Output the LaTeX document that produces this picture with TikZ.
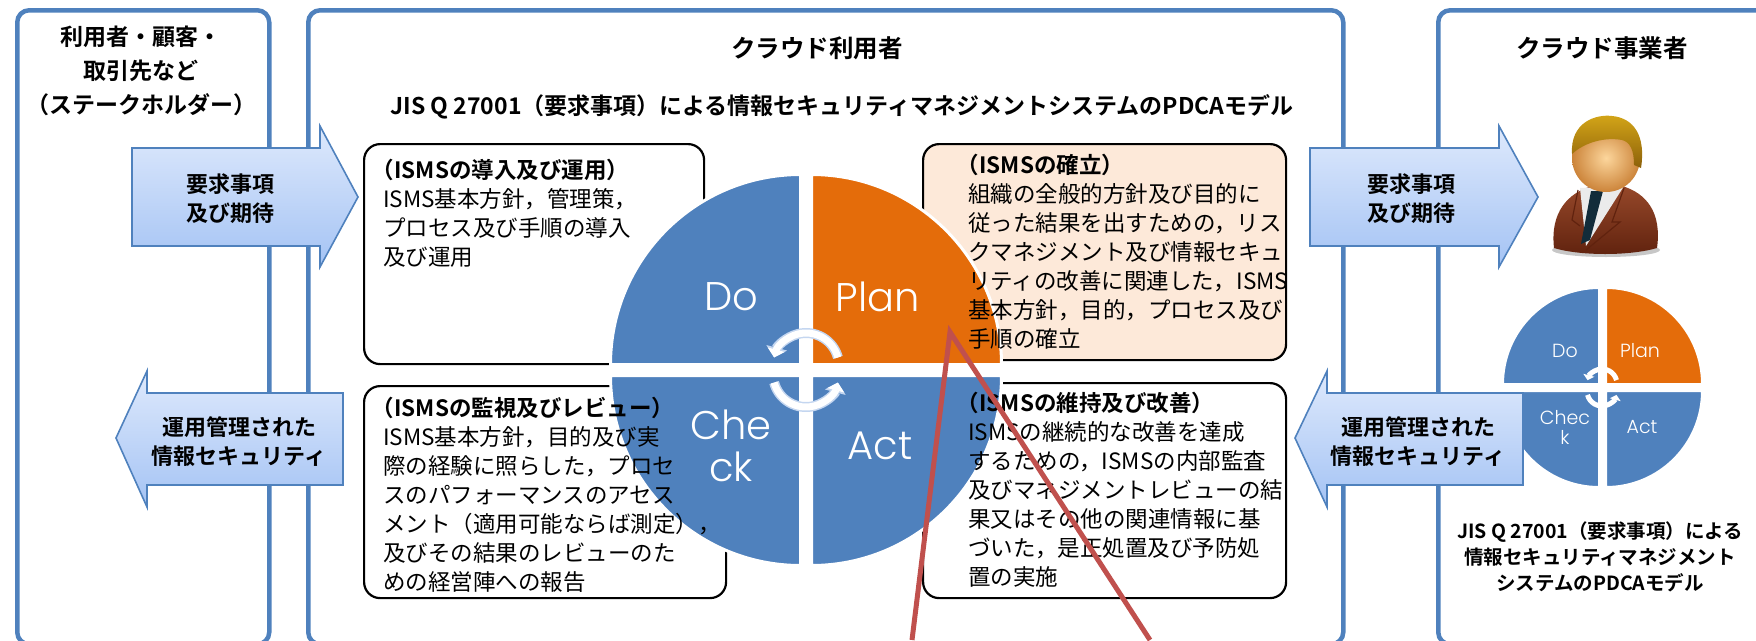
\documentclass[tikz,border=0pt]{standalone}
\usepackage{fontspec}
\setmainfont{Noto Sans CJK JP}[BoldFont={Noto Sans CJK JP Bold}]
\newfontfamily\pdcafont{Poppins Light}
\definecolor{panelblue}{RGB}{79,129,189}
\definecolor{pdcablue}{RGB}{79,129,189}
\definecolor{pdcaorange}{RGB}{228,108,10}
\definecolor{planfill}{RGB}{253,233,217}
\definecolor{arrowtop}{RGB}{222,233,252}
\definecolor{arrowbot}{RGB}{164,195,244}
\definecolor{calloutred}{RGB}{192,80,77}
\definecolor{cycleedge}{RGB}{196,214,240}
\definecolor{suitlight}{RGB}{150,72,42}
\definecolor{suitdark}{RGB}{96,34,14}
\definecolor{skinlight}{RGB}{252,214,156}
\definecolor{skindark}{RGB}{204,132,58}
\definecolor{hairlight}{RGB}{212,166,24}
\definecolor{hairdark}{RGB}{140,96,10}
\definecolor{tienavy}{RGB}{18,44,58}
\usetikzlibrary{arrows.meta,positioning}

\begin{document}
\begin{tikzpicture}[x=1pt,y=-1pt,
  panel/.style={draw=panelblue,line width=4.5pt,rounded corners=12pt,anchor=north west,inner sep=0pt},
  infobox/.style={draw=black,line width=2.2pt,rounded corners=16pt,fill=white,anchor=north west,inner sep=0pt},
  boxtext/.style={anchor=north west,inner sep=0pt,align=left,font=\fontsize{22.5}{29}\selectfont},
  headtext/.style={align=center,font=\bfseries\fontsize{23}{34}\selectfont},
  flowarrow/.style={draw=panelblue,line width=1.6pt,top color=arrowtop,bottom color=arrowbot},
  arrowtext/.style={align=center,font=\bfseries\fontsize{22}{29}\selectfont},
  quadrant/.style={draw=white,line width=3pt},
  pdcabig/.style={text=white,align=center,font=\pdcafont\fontsize{40}{42}\selectfont},
  pdcasmall/.style={text=white,align=center,font=\pdcafont\fontsize{19}{20}\selectfont},
  cyclebase/.style={cycleedge,line width=10pt,-{Triangle[length=10pt,width=21pt]}},
  cycletop/.style={white,line width=7pt,-{Triangle[length=8pt,width=17pt]}},
  callout/.style={calloutred,line width=5pt}]
  \useasboundingbox (0,0) rectangle (1756,640);

  % three lanes
  \node[panel,minimum width=252,minimum height=634] (stakeholders) at (15,8) {};
  \node[panel,minimum width=1035,minimum height=634] (clouduser) at (306,8) {};
  \node[panel,minimum width=340,minimum height=634] (provider) at (1436,8) {};

  \node[headtext] (stakeTitle) at (141,71) {利用者・顧客・\\取引先など\\（ステークホルダー）};
  \node[headtext,font=\bfseries\fontsize{24.5}{34}\selectfont] (userTitle) at (817,48) {クラウド利用者};
  \node[headtext,font=\bfseries\fontsize{24.5}{34}\selectfont] (providerTitle) at (1602,48) {クラウド事業者};
  \node[headtext] (modelTitle) at (842,107) {JIS Q 27001（要求事項）による情報セキュリティマネジメントシステムのPDCAモデル};

  % flows between stakeholders and cloud user
  \path[flowarrow] (132,148) -- (320,148) -- (320,126) -- (358,197) -- (320,267) -- (320,246) -- (132,246) -- cycle;
  \node[arrowtext] (reqIn) at (230,199) {要求事項\\及び期待};
  \path[flowarrow] (343,393) -- (147,393) -- (147,371) -- (116,438) -- (147,507) -- (147,485) -- (343,485) -- cycle;
  \node[arrowtext] (secOut) at (239,442) {運用管理された\\情報セキュリティ};

  % ISMS phase boxes
  \node[infobox,minimum width=340,minimum height=220] (doBox) at (363,143) {};
  \node[infobox,minimum width=362,minimum height=212] (checkBox) at (363,385) {};
  \node[infobox,fill=planfill,minimum width=363,minimum height=216] (planBox) at (922,143) {};
  \node[infobox,minimum width=363,minimum height=215] (actBox) at (922,382) {};

  % PDCA wheel
  \filldraw[quadrant,fill=pdcablue] (800.5,364.5) -- ++(-190,0) arc[start angle=180,end angle=270,radius=190] -- cycle;
  \filldraw[quadrant,fill=pdcaorange] (811.5,364.5) -- ++(0,-190) arc[start angle=270,end angle=360,radius=190] -- cycle;
  \filldraw[quadrant,fill=pdcablue] (811.5,375.5) -- ++(190,0) arc[start angle=0,end angle=90,radius=190] -- cycle;
  \filldraw[quadrant,fill=pdcablue] (800.5,375.5) -- ++(0,190) arc[start angle=90,end angle=180,radius=190] -- cycle;
  \node[pdcabig] (doLabel) at (731,297) {Do};
  \node[pdcabig] (planLabel) at (878,297) {Plan};
  \node[pdcabig] (checkLabel) at (731,446) {Che\\ck};
  \node[pdcabig] (actLabel) at (880,446) {Act};
  \draw[cyclebase] ([shift={(345:33)}]806,366) arc[start angle=345,end angle=195,radius=33];
  \draw[cycletop] ([shift={(345:33)}]806,366) arc[start angle=345,end angle=195,radius=33];
  \draw[cyclebase] ([shift={(165:33)}]806,374) arc[start angle=165,end angle=15,radius=33];
  \draw[cycletop] ([shift={(165:33)}]806,374) arc[start angle=165,end angle=15,radius=33];

  % phase texts sit over the wheel
  \node[boxtext] (doText) at (383,159) {\textbf{\kern-0.5em（ISMSの導入及び運用）}\\ISMS基本方針，管理策，\\プロセス及び手順の導入\\及び運用};
  \node[boxtext] (checkText) at (383,397) {\textbf{\kern-0.5em（ISMSの監視及びレビュー）}\\ISMS基本方針，目的及び実\\際の経験に照らした，プロセ\\スのパフォーマンスのアセス\\メント（適用可能ならば測定），\\及びその結果のレビューのた\\めの経営陣への報告};
  \node[boxtext] (planText) at (968,154) {\textbf{\kern-0.5em（ISMSの確立）}\\組織の全般的方針及び目的に\\従った結果を出すための，リス\\クマネジメント及び情報セキュ\\リティの改善に関連した，ISMS\\基本方針，目的，プロセス及び\\手順の確立};
  \node[boxtext] (actText) at (968,392) {\textbf{\kern-0.5em（ISMSの維持及び改善）}\\ISMSの継続的な改善を達成\\するための，ISMSの内部監査\\及びマネジメントレビューの結\\果又はその他の関連情報に基\\づいた，是正処置及び予防処\\置の実施};

  % provider side wheel
  \filldraw[quadrant,line width=2pt,fill=pdcablue] (1599,384) -- ++(-96,0) arc[start angle=180,end angle=270,radius=96] -- cycle;
  \filldraw[quadrant,line width=2pt,fill=pdcaorange] (1606,384) -- ++(0,-96) arc[start angle=270,end angle=360,radius=96] -- cycle;
  \filldraw[quadrant,line width=2pt,fill=pdcablue] (1606,391) -- ++(96,0) arc[start angle=0,end angle=90,radius=96] -- cycle;
  \filldraw[quadrant,line width=2pt,fill=pdcablue] (1599,391) -- ++(0,96) arc[start angle=90,end angle=180,radius=96] -- cycle;
  \node[pdcasmall] (doSmall) at (1565,351) {Do};
  \node[pdcasmall] (planSmall) at (1640,351) {Plan};
  \node[pdcasmall] (checkSmall) at (1565,427) {Chec\\k};
  \node[pdcasmall] (actSmall) at (1642,427) {Act};
  \draw[white,line width=5pt,-{Triangle[length=5pt,width=11pt]}] ([shift={(345:15)}]1602,384) arc[start angle=345,end angle=195,radius=15];
  \draw[white,line width=5pt,-{Triangle[length=5pt,width=11pt]}] ([shift={(165:15)}]1602,391) arc[start angle=165,end angle=15,radius=15];

  % flows between cloud user and provider
  \path[flowarrow] (1310,148) -- (1499,148) -- (1499,126) -- (1538,197) -- (1499,267) -- (1499,246) -- (1310,246) -- cycle;
  \node[arrowtext] (reqOut) at (1411,199) {要求事項\\及び期待};
  \path[flowarrow] (1523,393) -- (1327,393) -- (1327,371) -- (1295,438) -- (1327,507) -- (1327,485) -- (1523,485) -- cycle;
  \node[arrowtext] (secIn) at (1418,442) {運用管理された\\情報セキュリティ};

  % provider figure
  \fill[black!22] (1606,250) ellipse[x radius=54,y radius=7];
  \shade[top color=suitlight,bottom color=suitdark] (1554,248) .. controls (1550,212) and (1568,193) .. (1592,186) -- (1622,186) .. controls (1646,193) and (1662,212) .. (1657,248) .. controls (1630,256) and (1580,256) .. (1554,248) -- cycle;
  \fill[white!92!black] (1580,188) -- (1624,186) -- (1586,246) -- cycle;
  \fill[tienavy] (1591,191) -- (1603,191) -- (1590,240) -- (1581,244) -- cycle;
  \draw[suitdark,line width=1.2pt] (1624,188) -- (1612,222) -- (1620,222) -- (1586,250);
  \draw[suitdark,line width=1.2pt] (1578,190) -- (1572,220) -- (1580,226);
  \shade[inner color=skinlight,outer color=skindark] (1606,158) circle[radius=34];
  \shade[top color=hairlight,bottom color=hairdark] (1572,154) .. controls (1570,122) and (1596,114) .. (1612,116) .. controls (1634,118) and (1646,136) .. (1641,168) -- (1634,165) .. controls (1634,150) and (1630,142) .. (1622,140) .. controls (1605,137) and (1585,142) .. (1572,154) -- cycle;

  \node[align=center,font=\bfseries\fontsize{19.5}{26}\selectfont] (smallCaption) at (1600,557) {JIS Q 27001（要求事項）による\\情報セキュリティマネジメント\\システムのPDCAモデル};

  % callout to the Plan detail
  \coordinate (calloutApex) at (950,332);
  \coordinate (calloutLeft) at (912,640);
  \coordinate (calloutRight) at (1150,640);
  \draw[callout] (calloutLeft) -- (calloutApex) -- (calloutRight);
\end{tikzpicture}
\end{document}
